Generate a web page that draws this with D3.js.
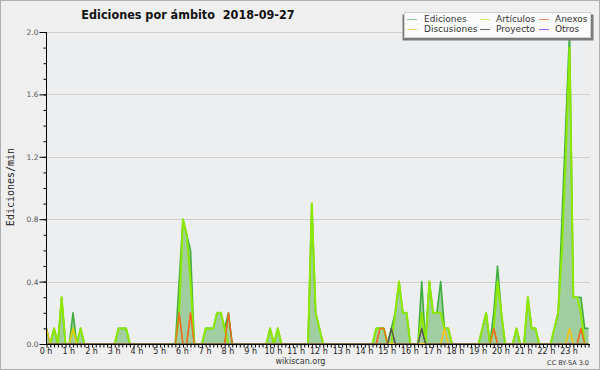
<!DOCTYPE html>
<html>
<head>
<meta charset="utf-8">
<script src="https://cdn.jsdelivr.net/npm/d3@7"></script>
<style>
  body { margin: 0; background: #efefef; }
  svg { display: block; }
  .axis text { font-family: 'DejaVu Sans', sans-serif; }
</style>
</head>
<body>
<svg id="chart" width="600" height="370"></svg>
<script>
// edits per minute, one value per 10-minute bucket (144 buckets = 24 h)
const ediciones = [
  0.1, 0, 0.1, 0, 0.3, 0, 0, 0.2, 0, 0.1, 0, 0,
  0, 0, 0, 0, 0, 0, 0, 0.1, 0.1, 0.1, 0, 0,
  0, 0, 0, 0, 0, 0, 0, 0, 0, 0, 0, 0.4,
  0.8, 0.7, 0.6, 0, 0, 0, 0.1, 0.1, 0.1, 0.2, 0.2, 0.1,
  0.2, 0, 0, 0, 0, 0, 0, 0, 0, 0, 0, 0.1,
  0, 0.1, 0, 0, 0, 0, 0, 0, 0, 0, 0.9, 0.2,
  0.1, 0, 0, 0, 0, 0, 0, 0, 0, 0, 0, 0,
  0, 0, 0, 0.1, 0.1, 0.1, 0, 0.1, 0.2, 0.4, 0.2, 0.2,
  0, 0, 0, 0.4, 0, 0.4, 0.2, 0.2, 0.4, 0.1, 0.1, 0,
  0, 0, 0, 0, 0, 0, 0, 0.1, 0.2, 0, 0.2, 0.5,
  0.2, 0, 0, 0, 0.1, 0, 0, 0.3, 0.1, 0.1, 0, 0,
  0, 0, 0.1, 0.2, 0.8, 1.4, 2.0, 0.3, 0.3, 0.3, 0.1, 0.1
];
const articulos = [
  0, 0, 0.1, 0, 0.3, 0, 0, 0.1, 0, 0.1, 0, 0,
  0, 0, 0, 0, 0, 0, 0, 0.1, 0.1, 0.1, 0, 0,
  0, 0, 0, 0, 0, 0, 0, 0, 0, 0, 0, 0.2,
  0.8, 0.7, 0.4, 0, 0, 0, 0.1, 0.1, 0.1, 0.2, 0.2, 0.1,
  0, 0, 0, 0, 0, 0, 0, 0, 0, 0, 0, 0.1,
  0, 0.1, 0, 0, 0, 0, 0, 0, 0, 0, 0.9, 0.2,
  0.1, 0, 0, 0, 0, 0, 0, 0, 0, 0, 0, 0,
  0, 0, 0, 0.1, 0.1, 0.1, 0, 0, 0.2, 0.4, 0.2, 0.2,
  0, 0, 0, 0.2, 0, 0.4, 0.2, 0.2, 0.2, 0.1, 0.1, 0,
  0, 0, 0, 0, 0, 0, 0, 0.1, 0.2, 0, 0.1, 0.4,
  0.2, 0, 0, 0, 0.1, 0, 0, 0.3, 0.1, 0.1, 0, 0,
  0, 0, 0.1, 0.2, 0.6, 1.2, 1.9, 0.3, 0.3, 0.2, 0, 0
];
const anexos = [
  0, 0, 0, 0, 0, 0, 0, 0, 0, 0, 0, 0,
  0, 0, 0, 0, 0, 0, 0, 0, 0, 0, 0, 0,
  0, 0, 0, 0, 0, 0, 0, 0, 0, 0, 0, 0.2,
  0, 0, 0.2, 0, 0, 0, 0, 0, 0, 0, 0, 0,
  0.2, 0, 0, 0, 0, 0, 0, 0, 0, 0, 0, 0,
  0, 0, 0, 0, 0, 0, 0, 0, 0, 0, 0, 0,
  0, 0, 0, 0, 0, 0, 0, 0, 0, 0, 0, 0,
  0, 0, 0, 0, 0.1, 0.1, 0, 0, 0, 0, 0, 0,
  0, 0, 0, 0, 0, 0, 0, 0, 0, 0, 0, 0,
  0, 0, 0, 0, 0, 0, 0, 0, 0, 0, 0.1, 0,
  0, 0, 0, 0, 0, 0, 0, 0, 0, 0, 0, 0,
  0, 0, 0, 0, 0, 0, 0, 0, 0, 0.1, 0, 0
];
const discusiones = [
  0.1, 0, 0, 0, 0, 0, 0, 0.1, 0, 0, 0, 0,
  0, 0, 0, 0, 0, 0, 0, 0, 0, 0, 0, 0,
  0, 0, 0, 0, 0, 0, 0, 0, 0, 0, 0, 0,
  0, 0, 0, 0, 0, 0, 0, 0, 0, 0, 0, 0,
  0, 0, 0, 0, 0, 0, 0, 0, 0, 0, 0, 0,
  0, 0, 0, 0, 0, 0, 0, 0, 0, 0, 0, 0,
  0, 0, 0, 0, 0, 0, 0, 0, 0, 0, 0, 0,
  0, 0, 0, 0, 0, 0, 0, 0, 0, 0, 0, 0,
  0, 0, 0, 0, 0, 0, 0, 0, 0, 0.1, 0, 0,
  0, 0, 0, 0, 0, 0, 0, 0, 0, 0, 0, 0,
  0, 0, 0, 0, 0, 0, 0, 0, 0, 0, 0, 0,
  0, 0, 0, 0, 0, 0, 0.1, 0, 0, 0, 0, 0
];
const proyecto = [
  0, 0, 0, 0, 0, 0, 0, 0, 0, 0, 0, 0,
  0, 0, 0, 0, 0, 0, 0, 0, 0, 0, 0, 0,
  0, 0, 0, 0, 0, 0, 0, 0, 0, 0, 0, 0,
  0, 0, 0, 0, 0, 0, 0, 0, 0, 0, 0, 0,
  0, 0, 0, 0, 0, 0, 0, 0, 0, 0, 0, 0,
  0, 0, 0, 0, 0, 0, 0, 0, 0, 0, 0, 0,
  0, 0, 0, 0, 0, 0, 0, 0, 0, 0, 0, 0,
  0, 0, 0, 0, 0, 0, 0, 0.1, 0, 0, 0, 0,
  0, 0, 0, 0.1, 0, 0, 0, 0, 0, 0, 0, 0,
  0, 0, 0, 0, 0, 0, 0, 0, 0, 0, 0, 0,
  0, 0, 0, 0, 0, 0, 0, 0, 0, 0, 0, 0,
  0, 0, 0, 0, 0, 0, 0, 0, 0, 0, 0, 0
];
const otros = [
  0, 0, 0, 0, 0, 0, 0, 0, 0, 0, 0, 0,
  0, 0, 0, 0, 0, 0, 0, 0, 0, 0, 0, 0,
  0, 0, 0, 0, 0, 0, 0, 0, 0, 0, 0, 0,
  0, 0, 0, 0, 0, 0, 0, 0, 0, 0, 0, 0,
  0, 0, 0, 0, 0, 0, 0, 0, 0, 0, 0, 0,
  0, 0, 0, 0, 0, 0, 0, 0, 0, 0, 0, 0,
  0, 0, 0, 0, 0, 0, 0, 0, 0, 0, 0, 0,
  0, 0, 0, 0, 0, 0, 0, 0, 0, 0, 0, 0,
  0, 0, 0, 0, 0, 0, 0, 0, 0, 0, 0, 0,
  0, 0, 0, 0, 0, 0, 0, 0, 0, 0, 0, 0,
  0, 0, 0, 0, 0, 0, 0, 0, 0, 0, 0, 0,
  0, 0, 0, 0, 0, 0, 0, 0, 0, 0, 0, 0
];
const seriesNames = ['Ediciones', 'Artículos', 'Anexos', 'Discusiones', 'Proyecto', 'Otros'];
const hourLabels = [
  '0 h', '1 h', '2 h', '3 h', '4 h', '5 h', '6 h', '7 h', '8 h', '9 h', '10 h', '11 h',
  '12 h', '13 h', '14 h', '15 h', '16 h', '17 h', '18 h', '19 h', '20 h', '21 h', '22 h', '23 h'
];
const yMajorTicks = [0, 0.4, 0.8, 1.2, 1.6, 2.0];

const seriesColors = ['#3fae3f', '#8fe800', '#ee6a1c', '#f0c419', '#555555', '#8a3cf0'];
const legendColors = ['#8ccc8c', '#ccef60', '#f0885a', '#f5d65a', '#666666', '#9b5cf0'];
const lineWidths = [1.6, 2, 1.3, 1.3, 1.3, 1.3];

const W = 600, H = 370;
const plot = { left: 46.5, right: 590, top: 32, bottom: 344 };

const svg = d3.select('#chart');

svg.append('rect').attr('width', W).attr('height', H).attr('fill', '#efefef');
svg.append('rect')
  .attr('x', plot.left).attr('y', plot.top)
  .attr('width', plot.right - plot.left).attr('height', plot.bottom - plot.top)
  .attr('fill', '#edeef0');
svg.append('rect')
  .attr('x', 0.5).attr('y', 0.5).attr('width', W - 1).attr('height', H - 1)
  .attr('fill', 'none').attr('stroke', '#b0b0b0');

const n = ediciones.length;
const x = d3.scaleLinear([0, n - 1], [46.5, 588.5]);
const y = d3.scaleLinear([0, 2], [plot.bottom, plot.top]);

/* grid lines */
svg.append('g')
  .selectAll('line')
  .data(yMajorTicks.filter((d) => d > 0))
  .enter()
  .append('line')
  .attr('x1', plot.left)
  .attr('x2', plot.right)
  .attr('y1', (d) => Math.round(y(d)) + 0.5)
  .attr('y2', (d) => Math.round(y(d)) + 0.5)
  .attr('stroke', '#cfcfcf')
  .attr('stroke-width', 1);

/* series */
const allSeries = [ediciones, articulos, anexos, discusiones, proyecto, otros];

const area = d3.area()
  .x((d, i) => x(i))
  .y0(y(0))
  .y1((d) => y(d));

svg.append('path')
  .attr('d', area(ediciones))
  .attr('fill', '#9ccb9c')
  .attr('fill-opacity', 0.95);

const line = d3.line()
  .x((d, i) => x(i))
  .y((d) => y(d));

// draw the smaller series first, then articulos and ediciones on top
const order = [5, 4, 3, 2, 0, 1];
svg.append('g')
  .selectAll('path')
  .data(order)
  .enter()
  .append('path')
  .attr('fill', 'none')
  .attr('stroke', (k) => seriesColors[k])
  .attr('stroke-width', (k) => lineWidths[k])
  .attr('stroke-linejoin', 'round')
  .attr('d', (k) => line(allSeries[k]));
// small series peaks sit over the fill, redraw them on top
svg.append('g')
  .selectAll('path')
  .data([2, 3, 4])
  .enter()
  .append('path')
  .attr('fill', 'none')
  .attr('stroke', (k) => seriesColors[k])
  .attr('stroke-width', (k) => lineWidths[k])
  .attr('stroke-linejoin', 'round')
  .attr('d', (k) => line(allSeries[k]));

/* left axis */
const leftMinor = d3.axisLeft(y)
  .tickValues(d3.range(0, 21).map((d) => d / 10))
  .tickSize(3)
  .tickFormat('');
svg.append('g')
  .attr('class', 'axis')
  .attr('transform', 'translate(46.5, 0)')
  .call(leftMinor)
  .call((g) => g.select('.domain').remove())
  .call((g) => g.selectAll('.tick line').attr('stroke', '#000'));

const leftAxis = d3.axisLeft(y)
  .tickValues(yMajorTicks)
  .tickSize(7)
  .tickPadding(1)
  .tickFormat(d3.format('.1f'));
svg.append('g')
  .attr('class', 'axis')
  .attr('transform', 'translate(46.5, 0)')
  .call(leftAxis)
  .call((g) => g.select('.domain').attr('stroke', '#000').attr('d', `M0,${plot.top}V${plot.bottom + 1}`))
  .call((g) => g.selectAll('.tick line').attr('stroke', '#000'))
  .call((g) => g.selectAll('.tick text')
    .attr('font-size', 7.5)
    .attr('fill', '#555'));

/* bottom axis */
const bottomAxis = d3.axisBottom(x)
  .tickValues(d3.range(0, n))
  .tickSize(3)
  .tickFormat('');
svg.append('g')
  .attr('class', 'axis')
  .attr('transform', 'translate(0, 344.5)')
  .call(bottomAxis)
  .call((g) => g.select('.domain').attr('stroke', '#000').attr('d', `M${plot.left},0H${plot.right}`))
  .call((g) => g.selectAll('.tick line').attr('stroke', '#000'));

svg.append('g')
  .selectAll('text')
  .data(hourLabels)
  .enter()
  .append('text')
  .attr('x', (d, i) => x(i * 6) - 0.5)
  .attr('y', 354)
  .attr('text-anchor', 'middle')
  .attr('font-family', 'DejaVu Sans, sans-serif')
  .attr('font-size', 8)
  .attr('fill', '#222')
  .text((d) => d);

/* titles */
svg.append('text')
  .attr('x', 188)
  .attr('y', 18.5)
  .attr('text-anchor', 'middle')
  .attr('font-family', 'DejaVu Sans Condensed, DejaVu Sans, sans-serif')
  .attr('font-stretch', 'condensed')
  .attr('font-weight', 'bold')
  .attr('font-size', 12.5)
  .attr('fill', '#111')
  .style('white-space', 'pre')
  .text('Ediciones por ámbito  2018-09-27');

svg.append('text')
  .attr('transform', 'translate(13.5, 187) rotate(-90)')
  .attr('text-anchor', 'middle')
  .attr('font-family', 'DejaVu Sans Mono, monospace')
  .attr('font-size', 10)
  .attr('fill', '#222')
  .text('Ediciones/min');

svg.append('text')
  .attr('x', 300.5)
  .attr('y', 364)
  .attr('text-anchor', 'middle')
  .attr('font-family', 'DejaVu Sans, sans-serif')
  .attr('font-size', 8)
  .attr('fill', '#333')
  .text('wikiscan.org');

svg.append('text')
  .attr('x', 589)
  .attr('y', 364.5)
  .attr('text-anchor', 'end')
  .attr('font-family', 'DejaVu Sans, sans-serif')
  .attr('font-size', 6.5)
  .attr('fill', '#333')
  .text('CC BY-SA 3.0');

/* legend */
const legend = svg.append('g');
legend.append('rect')
  .attr('x', 402.5).attr('y', 14.5).attr('width', 191).attr('height', 26)
  .attr('fill', '#7a7a7a');
legend.append('rect')
  .attr('x', 404.5).attr('y', 12.5).attr('width', 186).attr('height', 25)
  .attr('fill', '#fafafa').attr('stroke', '#d0d0d0');

const colX = [407, 480, 539];
const textX = [424, 496, 555];
const rowY = [19, 29];
const legendItems = legend.selectAll('.item')
  .data(seriesNames)
  .enter()
  .append('g')
  .attr('class', 'item');
legendItems.append('line')
  .attr('x1', (d, i) => colX[Math.floor(i / 2)])
  .attr('x2', (d, i) => colX[Math.floor(i / 2)] + 10)
  .attr('y1', (d, i) => rowY[i % 2] + 0.5)
  .attr('y2', (d, i) => rowY[i % 2] + 0.5)
  .attr('stroke', (d, i) => legendColors[[0, 3, 1, 4, 2, 5][i]])
  .attr('stroke-width', 1);
legendItems.append('text')
  .attr('x', (d, i) => textX[Math.floor(i / 2)])
  .attr('y', (d, i) => rowY[i % 2] + 3.3)
  .attr('font-family', 'DejaVu Sans, sans-serif')
  .attr('font-size', 9)
  .attr('fill', '#333')
  .text((d, i) => seriesNames[[0, 3, 1, 4, 2, 5][i]]);
</script>
</body>
</html>
